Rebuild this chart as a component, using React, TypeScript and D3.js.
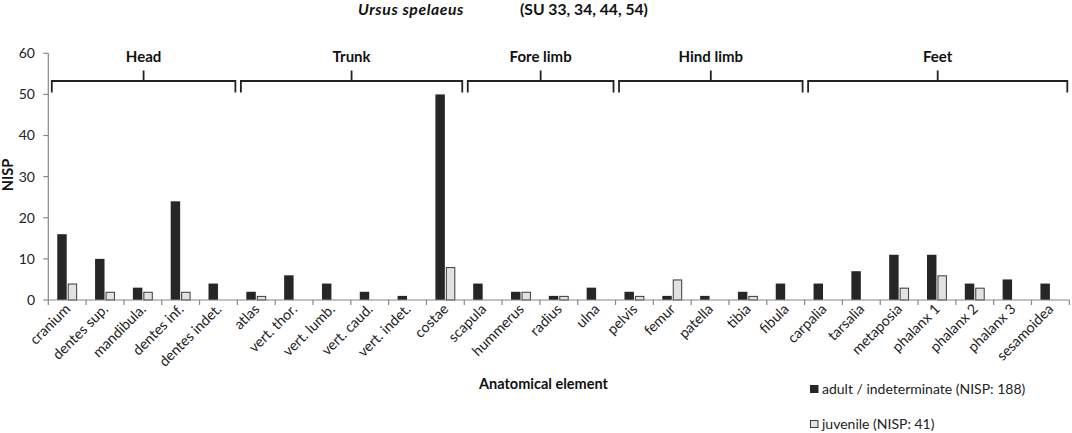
import React, { useEffect, useRef } from 'react';
import * as d3 from 'd3';

const elements = [
  'cranium', 'dentes sup.', 'mandibula.', 'dentes inf.', 'dentes indet.',
  'atlas', 'vert. thor.', 'vert. lumb.', 'vert. caud.', 'vert. indet.', 'costae',
  'scapula', 'hummerus', 'radius', 'ulna',
  'pelvis', 'femur', 'patella', 'tibia', 'fibula',
  'carpalia', 'tarsalia', 'metaposia', 'phalanx 1', 'phalanx 2', 'phalanx 3', 'sesamoidea',
];

const adult = [16, 10, 3, 24, 4, 2, 6, 4, 2, 1, 50, 4, 2, 1, 3, 2, 1, 1, 2, 4, 4, 7, 11, 11, 4, 5, 4];
const juvenile = [4, 2, 2, 2, 0, 1, 0, 0, 0, 0, 8, 0, 2, 1, 0, 1, 5, 0, 1, 0, 0, 0, 3, 6, 3, 0, 0];

const groupNames = ['Head', 'Trunk', 'Fore limb', 'Hind limb', 'Feet'];
const groupSizes = [5, 6, 4, 5, 7];

const yTicks = [0, 10, 20, 30, 40, 50, 60];

const seriesNames = ['adult / indeterminate (NISP: 188)', 'juvenile (NISP: 41)'];

const W = 1072;
const H = 433;
const FONT = 'Lato, "Open Sans", sans-serif';

const App: React.FC = () => {
  const ref = useRef<SVGSVGElement | null>(null);

  useEffect(() => {
    document.body.style.margin = '0';
    if (!ref.current) return;

    const svg = d3.select(ref.current).html('');
    svg.append('rect').attr('width', W).attr('height', H).attr('fill', '#fff');

    const x = d3.scaleBand<string>().domain(elements).range([48.3, 1069.3]).padding(0);
    const y = d3.scaleLinear().domain([0, 60]).range([300, 53.3]);
    const bw = x.bandwidth();
    const barW = bw * 0.25;

    // title
    const title = svg.append('text').attr('y', 15).attr('font-family', FONT).attr('font-size', 15.7)
      .attr('font-weight', 700).attr('fill', '#111');
    title.append('tspan').attr('x', 358).attr('font-style', 'italic').attr('letter-spacing', 0.6)
      .text('Ursus spelaeus');
    title.append('tspan').attr('x', 520).text('(SU 33, 34, 44, 54)');

    // y axis
    const axisColor = '#868686';
    svg.append('line').attr('x1', x.range()[0]).attr('x2', x.range()[0])
      .attr('y1', y(0)).attr('y2', y(60)).attr('stroke', axisColor).attr('stroke-width', 1.2);
    yTicks.forEach((t) => {
      svg.append('line').attr('x1', x.range()[0] - 5).attr('x2', x.range()[0])
        .attr('y1', y(t)).attr('y2', y(t)).attr('stroke', axisColor).attr('stroke-width', 1.2);
      svg.append('text').attr('x', 35).attr('y', y(t)).attr('dy', '0.35em').attr('text-anchor', 'end')
        .attr('font-family', FONT).attr('font-size', 14).attr('fill', '#222').text(t);
    });
    svg.append('text').attr('transform', `translate(13,175) rotate(-90)`).attr('text-anchor', 'middle')
      .attr('font-family', FONT).attr('font-size', 14.5).attr('font-weight', 700).attr('fill', '#111')
      .text('NISP');

    // bars
    elements.forEach((e, i) => {
      const cx = x(e)! + bw / 2;
      if (adult[i] > 0) {
        svg.append('rect').attr('x', cx - barW - 0.5).attr('width', barW)
          .attr('y', y(adult[i])).attr('height', y(0) - y(adult[i])).attr('fill', '#262626');
      }
      if (juvenile[i] > 0) {
        svg.append('rect').attr('x', cx + 0.5 + 0.5).attr('width', barW - 1)
          .attr('y', y(juvenile[i]) + 0.5).attr('height', y(0) - y(juvenile[i]) - 0.5)
          .attr('fill', '#e2e2e2').attr('stroke', '#3a3a3a').attr('stroke-width', 1);
      }
    });

    // x axis
    svg.append('line').attr('x1', x.range()[0]).attr('x2', x.range()[1])
      .attr('y1', y(0)).attr('y2', y(0)).attr('stroke', axisColor).attr('stroke-width', 1.2);
    d3.range(elements.length + 1).forEach((k) => {
      const xx = x.range()[0] + k * bw;
      svg.append('line').attr('x1', xx).attr('x2', xx).attr('y1', y(0)).attr('y2', y(0) + 5)
        .attr('stroke', axisColor).attr('stroke-width', 1.2);
    });
    elements.forEach((e) => {
      const cx = x(e)! + bw / 2;
      svg.append('text').attr('transform', `translate(${cx + 4},${y(0) + 10}) rotate(-45)`)
        .attr('text-anchor', 'end').attr('font-family', FONT).attr('font-size', 14.3)
        .attr('fill', '#222').text(e);
    });
    svg.append('text').attr('x', 543.5).attr('y', 389).attr('text-anchor', 'middle')
      .attr('font-family', FONT).attr('font-size', 14.5).attr('font-weight', 700).attr('fill', '#111')
      .text('Anatomical element');

    // group brackets
    let start = 0;
    groupNames.forEach((g, gi) => {
      const first = elements[start];
      const last = elements[start + groupSizes[gi] - 1];
      const x0 = x(first)! + 3.5;
      const x1 = x(last)! + bw - 2;
      const mid = (x0 + x1) / 2;
      const top = 81;
      svg.append('path')
        .attr('d', `M${x0},${top + 11.5}V${top}H${x1}V${top + 11.5}M${mid},${top}V${top - 10.5}`)
        .attr('fill', 'none').attr('stroke', '#222').attr('stroke-width', 1.8);
      svg.append('text').attr('x', mid).attr('y', 62).attr('text-anchor', 'middle')
        .attr('font-family', FONT).attr('font-size', 15).attr('font-weight', 700).attr('fill', '#111')
        .text(g);
      start += groupSizes[gi];
    });

    // legend
    const legY = [385, 420];
    seriesNames.forEach((s, i) => {
      svg.append('rect').attr('x', i === 0 ? 810 : 810.5).attr('y', legY[i] + (i === 0 ? 0 : 0.5))
        .attr('width', i === 0 ? 8.5 : 7.5).attr('height', i === 0 ? 8 : 7)
        .attr('fill', i === 0 ? '#262626' : '#e2e2e2')
        .attr('stroke', i === 0 ? 'none' : '#3a3a3a').attr('stroke-width', 1);
      svg.append('text').attr('x', 822).attr('y', legY[i] + 9).attr('font-family', FONT)
        .attr('font-size', 14).attr('fill', '#222').text(s);
    });
  }, []);

  return <svg ref={ref} width={W} height={H} style={{ display: 'block' }}></svg>;
};

export default App;
